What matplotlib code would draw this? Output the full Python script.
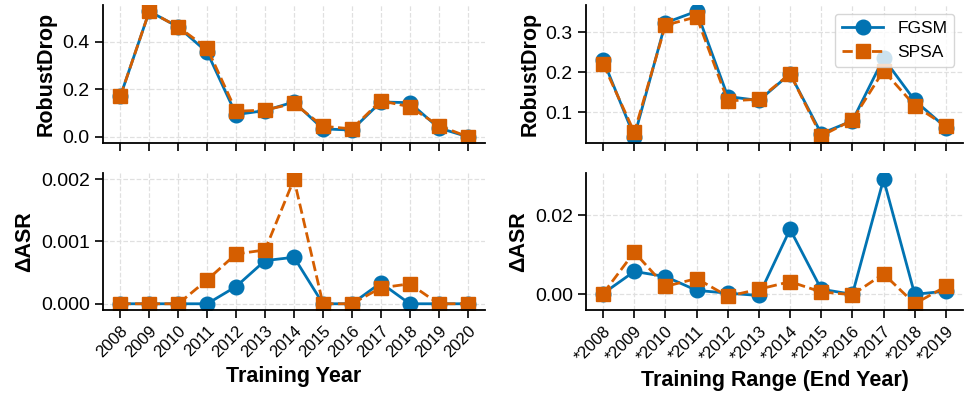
import matplotlib
matplotlib.use('Agg')
import matplotlib.pyplot as plt

plt.rcParams['font.family'] = ['Liberation Sans', 'DejaVu Sans']

years = ['2008', '2009', '2010', '2011', '2012', '2013', '2014',
         '2015', '2016', '2017', '2018', '2019', '2020']
ranges = ['*2008', '*2009', '*2010', '*2011', '*2012', '*2013',
          '*2014', '*2015', '*2016', '*2017', '*2018', '*2019']

# left column: single training year
year_drop_fgsm = [0.170, 0.527, 0.461, 0.355, 0.093, 0.110, 0.146, 0.033, 0.028, 0.146, 0.143, 0.037, 0.0]
year_drop_spsa = [0.170, 0.527, 0.461, 0.372, 0.107, 0.112, 0.140, 0.044, 0.033, 0.151, 0.126, 0.047, 0.0]
year_asr_fgsm = [0, 0, 0, 0, 0.000277, 0.000693, 0.000747, 0, 0, 0.000336, 0, 0, 0]
year_asr_spsa = [0, 0, 0, 0.000384, 0.000800, 0.000864, 0.002000, 0, 0, 0.000256, 0.000320, 0, 0]

# right column: training range up to end year
range_drop_fgsm = [0.231, 0.038, 0.324, 0.353, 0.139, 0.129, 0.196, 0.046, 0.078, 0.235, 0.129, 0.061]
range_drop_spsa = [0.221, 0.049, 0.318, 0.339, 0.128, 0.132, 0.196, 0.040, 0.080, 0.204, 0.116, 0.065]
range_asr_fgsm = [0.0002, 0.0058, 0.0045, 0.0010, 0.0003, -0.0003, 0.0165, 0.0013, 0.0, 0.0292, 0.0, 0.0008]
range_asr_spsa = [0.0002, 0.0107, 0.0020, 0.0040, -0.0005, 0.0013, 0.0032, 0.0006, -0.0001, 0.0052, -0.0024, 0.0020]

blue = '#0173b2'
orange = '#d55e00'

fig = plt.figure(figsize=(9.64, 3.97), dpi=100)

def style(ax):
    ax.spines['top'].set_visible(False)
    ax.spines['right'].set_visible(False)
    ax.spines['left'].set_linewidth(1.3)
    ax.spines['bottom'].set_linewidth(1.3)
    ax.grid(True, linestyle='--', color='#e0e0e0', linewidth=0.9)
    ax.set_axisbelow(True)
    ax.tick_params(axis='both', direction='out', length=6, width=1.2, labelsize=14)

def draw(ax, labels, fgsm, spsa):
    x = list(range(len(labels)))
    ax.plot(x, fgsm, '-o', color=blue, lw=2, ms=10.5, label='FGSM')
    ax.plot(x, spsa, '--s', color=orange, lw=2, ms=10.5, label='SPSA')
    ax.set_xticks(x)
    style(ax)

ax1 = fig.add_axes([103/964, 1 - 143/397, 382/964, 138/397])
ax2 = fig.add_axes([586/964, 1 - 143/397, 377/964, 138/397])
ax3 = fig.add_axes([103/964, 1 - 310/397, 382/964, 137/397])
ax4 = fig.add_axes([586/964, 1 - 310/397, 377/964, 137/397])

draw(ax1, years, year_drop_fgsm, year_drop_spsa)
draw(ax2, ranges, range_drop_fgsm, range_drop_spsa)
draw(ax3, years, year_asr_fgsm, year_asr_spsa)
draw(ax4, ranges, range_asr_fgsm, range_asr_spsa)

for ax in (ax1, ax2):
    ax.set_xticklabels([])
    ax.set_ylabel('RobustDrop', fontsize=15.5, fontweight='bold')

for ax, labels in ((ax3, years), (ax4, ranges)):
    ax.set_xticklabels(labels, rotation=45, ha='right', rotation_mode='anchor', fontsize=12)
    ax.set_ylabel('ΔASR', fontsize=15.5, fontweight='bold')

ax1.set_yticks([0.0, 0.2, 0.4])
ax2.set_yticks([0.1, 0.2, 0.3])
ax3.set_yticks([0.0, 0.001, 0.002])
ax3.set_yticklabels(['0.000', '0.001', '0.002'])
ax4.set_yticks([0.0, 0.02])
ax4.set_yticklabels(['0.00', '0.02'])

ax3.set_xlabel('Training Year', fontsize=15.5, fontweight='bold')
ax4.set_xlabel('Training Range (End Year)', fontsize=15.5, fontweight='bold')

ax2.legend(loc='upper right', fontsize=12.5, framealpha=0.8, borderaxespad=0.5,
           handlelength=2.4)

fig.savefig('out.png', dpi=100)
